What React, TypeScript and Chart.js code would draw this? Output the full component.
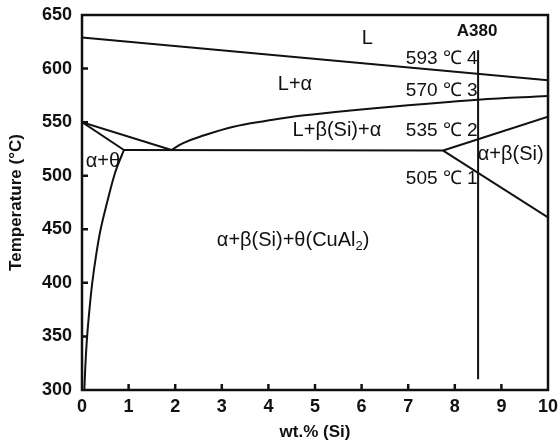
import React, { useEffect, useRef } from "react";
import { Chart, registerables } from "chart.js";

Chart.register(...registerables);

// ---- Data (wt.% Si vs Temperature °C) ----
const X_MIN = 0;
const X_MAX = 10;
const Y_MIN = 300;
const Y_MAX = 650;
const X_INNER_TICKS = [1, 2, 3, 4, 5, 6, 7, 8, 9];
const Y_INNER_TICKS = [350, 400, 450, 500, 550, 600];

// Liquidus (L / L+α)
const liquidusX = [0, 10];
const liquidusT = [629, 589];

// L+α / L+β(Si)+α boundary (curved)
const siLiquidusX = [1.92, 2.17, 2.53, 3.25, 3.96, 4.68, 6.4, 8.5, 10];
const siLiquidusT = [524, 530.5, 536.4, 545.7, 551.3, 556, 563.5, 571, 574.5];

// From (0,550) to eutectic
const upperLeftX = [0, 1.92];
const upperLeftT = [550, 524];

// From (0,550) to solvus top
const lowerLeftX = [0, 0.9];
const lowerLeftT = [550, 524];

// Eutectic horizontal
const eutecticX = [0.9, 7.75];
const eutecticT = [524, 523.5];

// Solvus curve (α / α+θ)
const solvusX = [0.05, 0.075, 0.11, 0.16, 0.22, 0.3, 0.4, 0.55, 0.69, 0.77, 0.9];
const solvusT = [300, 325, 350, 375, 400, 425, 450, 477, 500, 510, 524];

// α+β(Si) wedge
const wedgeUpperX = [7.75, 10];
const wedgeUpperT = [523.5, 555];
const wedgeLowerX = [7.75, 10];
const wedgeLowerT = [523.5, 461];

// A380 composition line
const a380X = [8.5, 8.5];
const a380T = [310, 617];

// Text annotations (data coordinates)
const FONT = "'Liberation Sans', Arial, Helvetica, sans-serif";
const labelTexts = ["L", "A380", "593 ℃ 4", "570 ℃ 3", "535 ℃ 2", "505 ℃ 1", "L+α", "L+β(Si)+α", "α+β(Si)", "α+θ"];
const labelX = [6.12, 8.48, 8.49, 8.49, 8.49, 8.49, 4.57, 5.47, 9.2, 0.45];
const labelT = [628.5, 635, 609.5, 579, 542, 497.5, 585.5, 542.5, 519.5, 513];
const labelAlign = ["center", "center", "right", "right", "right", "right", "center", "center", "center", "center"];
const labelWeight = ["normal", "bold", "normal", "normal", "normal", "normal", "normal", "normal", "normal", "normal"];
const labelSize = [20, 17, 19, 19, 19, 19, 20, 20, 20, 20];

// Big region label with subscript
const regionMain = "α+β(Si)+θ(CuAl";
const regionSub = "2";
const regionEnd = ")";
const regionX = 4.53;
const regionT = 440;

function pts(xs: number[], ys: number[]) {
  return xs.map((x, i) => ({ x, y: ys[i] }));
}

function lineDs(xs: number[], ys: number[], curved = false) {
  return {
    data: pts(xs, ys),
    showLine: true,
    borderColor: "#111",
    borderWidth: 2,
    pointRadius: 0,
    fill: false,
    tension: curved ? 0.4 : 0,
  };
}

const framePlugin = {
  id: "framePlugin",
  afterDraw(chart: any) {
    const { ctx, chartArea, scales } = chart;
    const xs = scales.x;
    const ys = scales.y;
    ctx.save();
    ctx.strokeStyle = "#111";
    ctx.lineWidth = 2.5;
    ctx.strokeRect(chartArea.left, chartArea.top, chartArea.right - chartArea.left, chartArea.bottom - chartArea.top);
    ctx.lineWidth = 2.5;
    ctx.beginPath();
    X_INNER_TICKS.forEach((v) => {
      const px = xs.getPixelForValue(v);
      ctx.moveTo(px, chartArea.bottom);
      ctx.lineTo(px, chartArea.bottom - 6);
    });
    Y_INNER_TICKS.forEach((v) => {
      const py = ys.getPixelForValue(v);
      ctx.moveTo(chartArea.left, py);
      ctx.lineTo(chartArea.left + 6, py);
    });
    ctx.stroke();

    // annotations
    ctx.fillStyle = "#111";
    ctx.textBaseline = "middle";
    labelTexts.forEach((t, i) => {
      ctx.font = `${labelWeight[i]} ${labelSize[i]}px ${FONT}`;
      ctx.textAlign = labelAlign[i] as CanvasTextAlign;
      ctx.fillText(t, xs.getPixelForValue(labelX[i]), ys.getPixelForValue(labelT[i]));
    });

    // region label with subscript
    const big = `normal 20px ${FONT}`;
    const small = `normal 13px ${FONT}`;
    ctx.font = big;
    const w1 = ctx.measureText(regionMain).width;
    const w3 = ctx.measureText(regionEnd).width;
    ctx.font = small;
    const w2 = ctx.measureText(regionSub).width;
    const total = w1 + w2 + w3;
    const cx = xs.getPixelForValue(regionX);
    const cy = ys.getPixelForValue(regionT);
    let sx = cx - total / 2;
    ctx.textAlign = "left";
    ctx.font = big;
    ctx.fillText(regionMain, sx, cy);
    sx += w1;
    ctx.font = small;
    ctx.fillText(regionSub, sx, cy + 6);
    sx += w2;
    ctx.font = big;
    ctx.fillText(regionEnd, sx, cy);
    ctx.restore();
  },
};

export default function App() {
  const ref = useRef<HTMLCanvasElement | null>(null);

  useEffect(() => {
    if (!ref.current) return;
    const chart = new Chart(ref.current, {
      type: "scatter",
      data: {
        datasets: [
          lineDs(liquidusX, liquidusT),
          lineDs(siLiquidusX, siLiquidusT, true),
          lineDs(upperLeftX, upperLeftT),
          lineDs(lowerLeftX, lowerLeftT),
          lineDs(eutecticX, eutecticT),
          lineDs(solvusX, solvusT, true),
          lineDs(wedgeUpperX, wedgeUpperT),
          lineDs(wedgeLowerX, wedgeLowerT),
          lineDs(a380X, a380T),
        ] as any,
      },
      options: {
        animation: false,
        responsive: true,
        maintainAspectRatio: false,
        layout: { padding: { top: 15, right: 12, left: 2, bottom: 0 } },
        plugins: {
          legend: { display: false },
          tooltip: { enabled: false },
        },
        scales: {
          x: {
            type: "linear",
            min: X_MIN,
            max: X_MAX,
            grid: { display: false, drawTicks: false, tickLength: 0 },
            border: { display: false },
            ticks: {
              stepSize: 1,
              color: "#111",
              padding: 6,
              font: { family: FONT, size: 18, weight: "bold" },
            },
            title: {
              display: true,
              text: "wt.% (Si)",
              color: "#111",
              font: { family: FONT, size: 17, weight: "bold" },
              padding: { top: 0, bottom: 2 },
            },
            afterFit(scale: any) {
              scale.height = 55;
              scale.paddingLeft = 0;
              scale.paddingRight = 0;
            },
          },
          y: {
            type: "linear",
            min: Y_MIN,
            max: Y_MAX,
            grid: { display: false, drawTicks: false, tickLength: 0 },
            border: { display: false },
            ticks: {
              stepSize: 50,
              color: "#111",
              padding: 10,
              font: { family: FONT, size: 18, weight: "bold" },
            },
            title: {
              display: true,
              text: "Temperature (°C)",
              color: "#111",
              font: { family: FONT, size: 17, weight: "bold" },
              padding: { top: 4, bottom: 0 },
            },
            afterFit(scale: any) {
              scale.width = 80;
              scale.paddingTop = 0;
              scale.paddingBottom = 0;
            },
          },
        },
      },
      plugins: [framePlugin],
    });
    return () => chart.destroy();
  }, []);

  return (
    <div style={{ position: "absolute", left: 0, top: 0, width: 560, height: 445, background: "#fff" }}>
      <canvas ref={ref} />
    </div>
  );
}
